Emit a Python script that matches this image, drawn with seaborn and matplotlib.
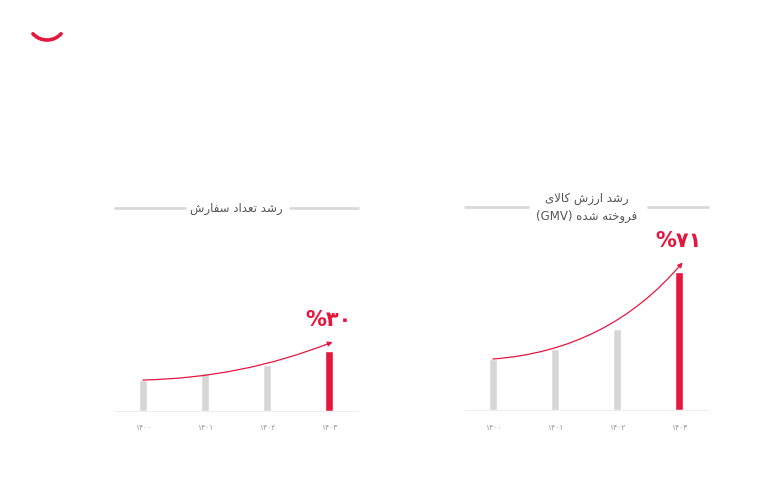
import matplotlib
matplotlib.use("Agg")
import matplotlib.pyplot as plt
import seaborn as sns
from matplotlib.patches import Arc

# Chart data (relative bar heights)
years = ['۱۴۰۰', '۱۴۰۱', '۱۴۰۲', '۱۴۰۳']
orders = [31, 38, 46, 60]          # order count growth  -> 30%
gmv = [51, 61, 81, 138.5]          # GMV growth          -> 71%
orders_label = '%۳۰'
gmv_label = '%۷۱'
orders_title = 'رشد تعداد سفارش'
gmv_title_1 = 'رشد ارزش کالای'
gmv_title_2 = 'فروخته شده'

RED = '#e5173f'
GRAY = '#d6d6d6'

# minimal Persian shaping (matplotlib has no bidi / joining support)
FORMS = {
    'ا': ('\uFE8D', '\uFE8E'), 'د': ('\uFEA9', '\uFEAA'),
    'ر': ('\uFEAD', '\uFEAE'), 'ز': ('\uFEAF', '\uFEB0'),
    'و': ('\uFEED', '\uFEEE'),
    'ت': ('\uFE95', '\uFE96', '\uFE97', '\uFE98'),
    'خ': ('\uFEA5', '\uFEA6', '\uFEA7', '\uFEA8'),
    'س': ('\uFEB1', '\uFEB2', '\uFEB3', '\uFEB4'),
    'ش': ('\uFEB5', '\uFEB6', '\uFEB7', '\uFEB8'),
    'ع': ('\uFEC9', '\uFECA', '\uFECB', '\uFECC'),
    'ف': ('\uFED1', '\uFED2', '\uFED3', '\uFED4'),
    'ل': ('\uFEDD', '\uFEDE', '\uFEDF', '\uFEE0'),
    'ه': ('\uFEE9', '\uFEEA', '\uFEEB', '\uFEEC'),
    'ک': ('\uFB8E', '\uFB8F', '\uFB90', '\uFB91'),
    'ی': ('\uFBFC', '\uFBFD', '\uFBFE', '\uFBFF'),
}


def rtl(text):
    out = []
    i = 0
    while i < len(text):
        c = text[i]
        if c not in FORMS:
            out.append(c)
            i += 1
            continue
        prev = text[i - 1] if i > 0 else ''
        nxt = text[i + 1] if i + 1 < len(text) else ''
        jp = prev in FORMS and len(FORMS[prev]) == 4
        if c == 'ل' and nxt == 'ا':
            out.append('\uFEFC' if jp else '\uFEFB')
            i += 2
            continue
        jn = len(FORMS[c]) == 4 and nxt in FORMS
        f = FORMS[c]
        if jp and jn:
            out.append(f[3])
        elif jp:
            out.append(f[1])
        elif jn:
            out.append(f[2])
        else:
            out.append(f[0])
        i += 1
    return ''.join(out)[::-1]


sns.set_style('white')
plt.rcParams['font.family'] = ['DejaVu Sans']

fig = plt.figure(figsize=(7.8, 4.96), dpi=100)
W, H = 780, 496


def draw_panel(rect, values, label, title, rad, line_gaps):
    ax = fig.add_axes(rect)
    sns.barplot(x=years, y=values, hue=years,
                palette=[GRAY, GRAY, GRAY, RED], legend=False,
                saturation=1, width=0.14, ax=ax)
    ax.set_xlim(-0.45, 3.47)
    ax.set_ylim(0, 181)
    ax.set_yticks([])
    ax.set_xlabel('')
    ax.set_ylabel('')
    for s in ['top', 'left', 'right']:
        ax.spines[s].set_visible(False)
    ax.spines['bottom'].set_color('#eeeeee')
    ax.spines['bottom'].set_linewidth(0.8)
    ax.tick_params(axis='x', length=0, pad=9, labelsize=5.5, labelcolor='#9a9a9a')

    # growth arrow from first bar to the last one
    ax.annotate('', xy=(3.06, values[-1] + 9), xytext=(0, values[0]),
                arrowprops=dict(arrowstyle='-|>', color=RED, lw=0.9,
                                mutation_scale=7, shrinkA=0, shrinkB=0,
                                connectionstyle=f'arc3,rad={rad}'))
    ax.annotate(label, xy=(3, values[-1]), xytext=(0, 22),
                textcoords='offset points', ha='center', va='center',
                fontsize=15, fontweight='bold', color=RED)

    # title with side rules
    ax.plot([0, line_gaps[0]], [1.12, 1.12], transform=ax.transAxes,
            color='#d9d9d9', lw=2, clip_on=False)
    ax.plot([line_gaps[1], 1], [1.12, 1.12], transform=ax.transAxes,
            color='#d9d9d9', lw=2, clip_on=False)
    ax.text(0.5, 1.12, title, transform=ax.transAxes, ha='center',
            va='center', fontsize=8.5, color='#555555', linespacing=1.5)
    return ax


draw_panel([115 / W, 85 / H, 243 / W, 181 / H], orders, orders_label,
           rtl(orders_title), 0.09, (0.288, 0.72))
draw_panel([465 / W, 86 / H, 243 / W, 181 / H], gmv, gmv_label,
           rtl(gmv_title_1) + '\n(GMV) ' + rtl(gmv_title_2), 0.21, (0.26, 0.753))

# logo smile
logo = Arc((47 / W, 1 - 21 / H), 38 / W, 38 / H, theta1=235, theta2=305,
           transform=fig.transFigure, color=RED, lw=2.6, capstyle='round')
fig.add_artist(logo)

fig.savefig('out.png', dpi=100)
